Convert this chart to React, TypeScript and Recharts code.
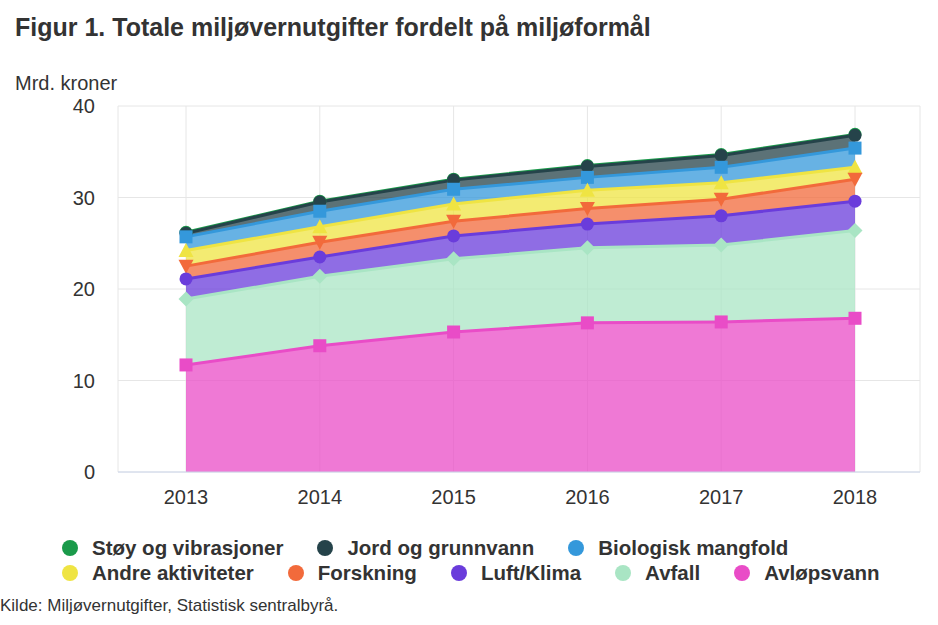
import React from 'react';
import { AreaChart, Area, XAxis, YAxis, CartesianGrid } from 'recharts';

const years = ['2013', '2014', '2015', '2016', '2017', '2018'];

// values per formål, mrd. kroner
const stoy = [0.1, 0.1, 0.1, 0.1, 0.1, 0.1];
const jord = [0.4, 1.0, 1.0, 1.2, 1.3, 1.4];
const biologisk = [1.5, 1.7, 1.6, 1.4, 1.7, 2.1];
const andre = [1.7, 1.7, 1.9, 2.0, 1.8, 1.3];
const forskning = [1.4, 1.6, 1.6, 1.7, 1.8, 2.4];
const luftKlima = [2.2, 2.1, 2.5, 2.6, 3.2, 3.2];
const avfall = [7.2, 7.6, 8.0, 8.2, 8.4, 9.6];
const avlopsvann = [11.7, 13.8, 15.3, 16.3, 16.4, 16.8];

const yTicks = [0, 10, 20, 30, 40];

const data = years.map((year, i) => ({
  year,
  stoy: stoy[i],
  jord: jord[i],
  biologisk: biologisk[i],
  andre: andre[i],
  forskning: forskning[i],
  luftKlima: luftKlima[i],
  avfall: avfall[i],
  avlopsvann: avlopsvann[i],
}));

type Shape = 'circle' | 'square' | 'up' | 'down' | 'diamond';

// legend order = drawing order; stack is reversed so the last one sits at the bottom
const series: { key: string; name: string; color: string; shape: Shape }[] = [
  { key: 'stoy', name: 'Støy og vibrasjoner', color: '#1a9a4a', shape: 'circle' },
  { key: 'jord', name: 'Jord og grunnvann', color: '#25434a', shape: 'circle' },
  { key: 'biologisk', name: 'Biologisk mangfold', color: '#3498db', shape: 'square' },
  { key: 'andre', name: 'Andre aktiviteter', color: '#efe443', shape: 'up' },
  { key: 'forskning', name: 'Forskning', color: '#f26a3b', shape: 'down' },
  { key: 'luftKlima', name: 'Luft/Klima', color: '#6a3cdb', shape: 'circle' },
  { key: 'avfall', name: 'Avfall', color: '#a9e5c4', shape: 'diamond' },
  { key: 'avlopsvann', name: 'Avløpsvann', color: '#e94cc7', shape: 'square' },
];

const legendRows = [
  ['stoy', 'jord', 'biologisk'],
  ['andre', 'forskning', 'luftKlima', 'avfall', 'avlopsvann'],
];

const makeDot = (shape: Shape, color: string) => (props: any) => {
  const { cx, cy, index } = props;
  const k = `${shape}-${index}`;
  if (cx == null || cy == null) return <g key={k} />;
  const s = 6.5;
  switch (shape) {
    case 'square':
      return <rect key={k} x={cx - s} y={cy - s} width={s * 2} height={s * 2} fill={color} />;
    case 'up':
      return <path key={k} d={`M${cx},${cy - s - 1}L${cx + s + 1},${cy + s}L${cx - s - 1},${cy + s}Z`} fill={color} />;
    case 'down':
      return <path key={k} d={`M${cx - s - 1},${cy - s}L${cx + s + 1},${cy - s}L${cx},${cy + s + 1}Z`} fill={color} />;
    case 'diamond':
      return <path key={k} d={`M${cx},${cy - s - 1}L${cx + s + 1},${cy}L${cx},${cy + s + 1}L${cx - s - 1},${cy}Z`} fill={color} />;
    default:
      return <circle key={k} cx={cx} cy={cy} r={s} fill={color} />;
  }
};

const font = '"Liberation Sans", Arial, Helvetica, sans-serif';

export default function App() {
  return (
    <div style={{ position: 'absolute', left: 0, top: 0, width: 938, height: 625, fontFamily: font, color: '#333', background: '#fff' }}>
      <div style={{ position: 'absolute', left: 15, top: 15, fontSize: 25, fontWeight: 'bold', lineHeight: 1 }}>
        Figur 1. Totale miljøvernutgifter fordelt på miljøformål
      </div>
      <div style={{ position: 'absolute', left: 15, top: 73, fontSize: 20, lineHeight: 1 }}>Mrd. kroner</div>
      <div style={{ position: 'absolute', left: 0, top: 0 }}>
        <AreaChart
          width={938}
          height={520}
          data={data}
          reverseStackOrder
          margin={{ top: 106, right: 18, bottom: 8, left: 0 }}
        >
          <CartesianGrid stroke="#e6e6e6" vertical horizontal />
          <XAxis
            dataKey="year"
            padding={{ left: 68, right: 65 }}
            tickLine={false}
            tickSize={0}
            tickMargin={18}
            height={40}
            stroke="#ccd6eb"
            tick={{ fill: '#333', fontSize: 20, fontFamily: font }}
          />
          <YAxis
            domain={[0, 40]}
            ticks={yTicks}
            width={118}
            axisLine={false}
            tickLine={false}
            tickSize={0}
            tickMargin={23}
            tick={{ fill: '#333', fontSize: 20, fontFamily: font }}
          />
          {series.map((s) => (
            <Area
              key={s.key}
              type="linear"
              dataKey={s.key}
              name={s.name}
              stackId="1"
              stroke={s.color}
              strokeWidth={3}
              fill={s.color}
              fillOpacity={0.75}
              dot={makeDot(s.shape, s.color)}
              activeDot={false}
              isAnimationActive={false}
            />
          ))}
        </AreaChart>
      </div>
      {legendRows.map((row, r) => (
        <div
          key={r}
          style={{ position: 'absolute', left: 62, top: 536 + r * 25, display: 'flex', alignItems: 'center', fontSize: 20.5, fontWeight: 'bold', lineHeight: '24px' }}
        >
          {row.map((key) => {
            const s = series.find((x) => x.key === key)!;
            return (
              <div key={key} style={{ display: 'flex', alignItems: 'center', marginRight: 34 }}>
                <span style={{ width: 16, height: 16, borderRadius: 8, background: s.color, marginRight: 14, display: 'inline-block' }} />
                <span>{s.name}</span>
              </div>
            );
          })}
        </div>
      ))}
      <div style={{ position: 'absolute', left: 0, top: 597, fontSize: 17, lineHeight: 1 }}>
        Kilde: Miljøvernutgifter, Statistisk sentralbyrå.
      </div>
    </div>
  );
}
